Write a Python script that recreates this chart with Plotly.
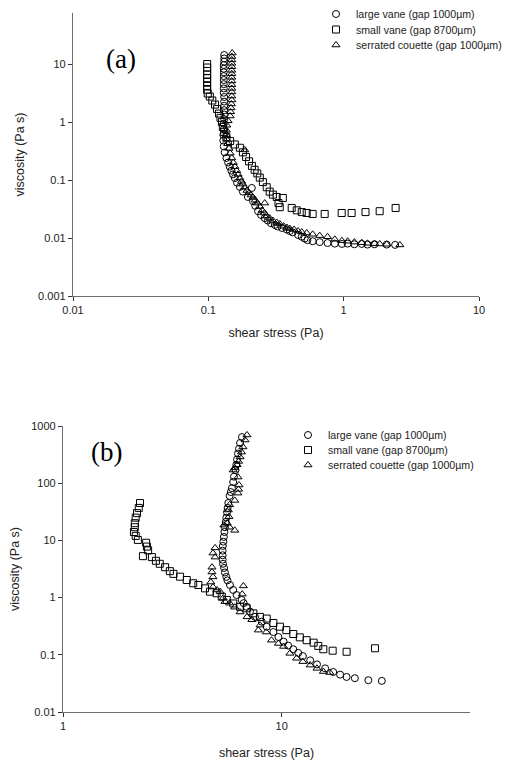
import plotly.graph_objects as go

# ---------------- Panel (a) data ----------------
a_large_x = [0.131, 0.131, 0.131, 0.130, 0.130, 0.130, 0.130, 0.130, 0.130, 0.130, 0.130, 0.131, 0.131,
             0.131, 0.131, 0.131, 0.131, 0.130, 0.130, 0.129, 0.129, 0.130, 0.132, 0.136, 0.140, 0.144,
             0.148, 0.152, 0.157, 0.163, 0.171, 0.180, 0.196, 0.2095, 0.214, 0.222, 0.233, 0.245, 0.261,
             0.275, 0.29, 0.31, 0.325, 0.35, 0.38, 0.40, 0.42, 0.46, 0.49, 0.515, 0.54, 0.59, 0.665,
             0.76, 0.86, 0.97, 1.07, 1.2, 1.36, 1.5, 1.69, 2.08, 2.4]
a_large_y = [14.3, 12.5, 11.0, 9.6, 8.3, 7.2, 6.2, 5.3, 4.5, 3.8, 3.2, 2.7, 2.25,
             1.9, 1.6, 1.35, 1.12, 0.93, 0.75, 0.6, 0.48, 0.38, 0.30, 0.24, 0.20, 0.17,
             0.145, 0.125, 0.108, 0.09, 0.076, 0.063, 0.051, 0.073, 0.043, 0.036, 0.029, 0.025, 0.022,
             0.020, 0.018, 0.0168, 0.0158, 0.0149, 0.014, 0.0132, 0.0125, 0.0113, 0.0105, 0.0098, 0.0092, 0.0088, 0.0085,
             0.0082, 0.0080, 0.0079, 0.0080, 0.0078, 0.0079, 0.0077, 0.0078, 0.0077, 0.0076]

a_small_x = [0.098, 0.098, 0.098, 0.098, 0.098, 0.098, 0.098, 0.098, 0.099, 0.1026, 0.107, 0.112, 0.116,
             0.12, 0.123, 0.126, 0.128, 0.131, 0.136, 0.145, 0.157, 0.171, 0.18, 0.19, 0.2, 0.21, 0.22,
             0.23, 0.24, 0.253, 0.27, 0.284, 0.3, 0.32, 0.355, 0.33, 0.337, 0.413, 0.45, 0.49, 0.533,
             0.59, 0.724, 0.967, 1.145, 1.45, 1.845, 2.42]
a_small_y = [10.0, 8.7, 7.6, 6.6, 5.7, 4.9, 4.2, 3.6, 3.1, 2.75, 2.35, 2.0, 1.68,
             1.4, 1.18, 1.0, 0.82, 0.67, 0.55, 0.47, 0.41, 0.36, 0.30, 0.25, 0.21, 0.175, 0.15,
             0.13, 0.11, 0.092, 0.075, 0.063, 0.056, 0.051, 0.049, 0.040, 0.034, 0.033, 0.030, 0.028, 0.027,
             0.026, 0.026, 0.027, 0.027, 0.028, 0.029, 0.033]

a_serr_x = [0.150, 0.149, 0.149, 0.149, 0.149, 0.149, 0.149, 0.149, 0.149, 0.149, 0.149, 0.149, 0.149,
            0.149, 0.148, 0.147, 0.146, 0.145, 0.140, 0.137, 0.136, 0.136, 0.137, 0.139, 0.142, 0.186,
            0.145, 0.149, 0.153, 0.157, 0.162, 0.166, 0.171, 0.176, 0.180, 0.186, 0.193, 0.200, 0.207,
            0.214, 0.222, 0.261, 0.230, 0.240, 0.250, 0.260, 0.270, 0.284, 0.300, 0.320, 0.337, 0.360,
            0.380, 0.400, 0.430, 0.460, 0.490, 0.533, 0.590, 0.665, 0.760, 0.860, 0.970, 1.07, 1.20,
            1.36, 1.50, 1.69, 1.85, 2.08, 2.60]
a_serr_y = [15.5, 13.5, 11.8, 10.3, 9.0, 7.8, 6.8, 5.9, 5.1, 4.4, 3.8, 3.3, 2.8,
            2.4, 2.05, 1.75, 1.5, 1.27, 1.05, 0.88, 0.72, 0.60, 0.50, 0.42, 0.35, 0.33,
            0.29, 0.24, 0.20, 0.17, 0.145, 0.125, 0.108, 0.095, 0.085, 0.075, 0.066, 0.060, 0.055,
            0.050, 0.045, 0.040, 0.040, 0.035, 0.030, 0.027, 0.024, 0.022, 0.020, 0.0185, 0.0175, 0.016,
            0.0152, 0.0145, 0.0140, 0.0132, 0.0127, 0.0122, 0.0116, 0.0110, 0.0105, 0.0095, 0.0090, 0.0088, 0.0085,
            0.0083, 0.0081, 0.0080, 0.0079, 0.0078, 0.0076]

# ---------------- Panel (b) data ----------------
b_large_x = [6.58, 6.45, 6.38, 6.31, 6.25, 6.20, 6.15, 6.05, 6.00, 5.92, 5.85, 5.78, 5.70, 5.66, 5.62,
             5.58, 5.55, 5.50, 5.47, 5.44, 5.41, 5.38, 5.37, 5.37, 5.37, 5.39, 5.45, 5.50, 5.58, 5.65,
             5.80, 6.00, 6.22, 6.56, 6.70, 6.92, 7.16, 7.55, 8.10, 8.54, 9.16, 9.66, 10.2, 10.7, 11.3,
             11.9, 12.5, 13.5, 14.5, 15.8, 17.2, 18.5, 19.8, 21.6, 24.9, 28.7]
b_large_y = [640, 505, 400, 330, 260, 210, 170, 130, 105, 82, 70, 60, 45, 37, 31,
             25, 21, 17, 14, 11.5, 9.5, 8.0, 6.6, 5.5, 4.6, 3.9, 3.3, 2.75, 2.3, 2.0,
             1.66, 1.36, 1.11, 0.91, 0.80, 0.69, 0.57, 0.46, 0.38, 0.31, 0.25, 0.205, 0.17, 0.145, 0.125,
             0.108, 0.095, 0.080, 0.068, 0.058, 0.050, 0.045, 0.041, 0.039, 0.036, 0.035]

b_small_x = [2.25, 2.22, 2.18, 2.15, 2.13, 2.13, 2.11, 2.15, 2.20, 2.40, 2.42, 2.45, 2.32, 2.55, 2.66,
             2.77, 2.93, 3.08, 3.20, 3.43, 3.68, 3.94, 4.16, 4.46, 4.70, 5.04, 5.32, 5.61, 6.01, 6.45,
             6.92, 7.42, 7.96, 8.54, 9.16, 9.82, 10.5, 11.3, 12.1, 13.0, 14.0, 14.7, 15.5, 17.1, 19.8, 26.7]
b_small_y = [45, 37, 30, 25, 20, 17, 14, 12, 10.2, 9.1, 7.8, 6.7, 5.3, 5.1, 4.4,
             3.9, 3.4, 2.9, 2.6, 2.32, 2.03, 1.78, 1.66, 1.45, 1.27, 1.19, 1.04, 0.91, 0.79, 0.69,
             0.65, 0.53, 0.46, 0.43, 0.36, 0.31, 0.27, 0.231, 0.202, 0.18, 0.163, 0.143, 0.125, 0.118, 0.113, 0.13]

b_serr_x = [6.94, 6.80, 6.65, 6.55, 6.45, 6.35, 6.25, 6.10, 6.00, 6.31, 6.38, 6.35, 6.31, 6.10, 5.78,
            5.70, 5.74, 5.63, 5.44, 5.78, 6.10, 4.96, 4.85, 4.96, 4.80, 4.80, 4.85, 4.74, 4.85, 5.06,
            5.23, 5.40, 5.50, 5.78, 6.10, 6.68, 6.60, 6.45, 6.94, 7.30, 7.96, 7.82, 8.50, 8.98, 9.66,
            10.2, 10.9, 11.7, 12.5, 13.5, 14.5, 15.5, 16.6]
b_serr_y = [697, 569, 430, 350, 287, 240, 210, 185, 170, 128, 93, 78, 67, 50, 42,
            34, 26, 20, 18.5, 17, 15, 7.4, 6.0, 5.1, 3.4, 2.8, 2.3, 1.87, 1.53, 1.36,
            1.27, 0.98, 0.85, 0.80, 0.68, 1.60, 1.15, 0.56, 0.46, 0.41, 0.33, 0.27, 0.25, 0.18, 0.158,
            0.14, 0.106, 0.087, 0.076, 0.066, 0.058, 0.051, 0.049]

series_names = ["large vane (gap 1000\u00b5m)", "small vane (gap 8700\u00b5m)",
                "serrated couette (gap 1000\u00b5m)"]
symbols = ["circle-open", "square-open", "triangle-up-open"]

x_ticks_a = [0.01, 0.1, 1, 10]
x_ticktext_a = ["0.01", "0.1", "1", "10"]
y_ticks_a = [0.001, 0.01, 0.1, 1, 10]
y_ticktext_a = ["0.001", "0.01", "0.1", "1", "10"]
x_ticks_b = [1, 10]
x_ticktext_b = ["1", "10"]
y_ticks_b = [0.01, 0.1, 1, 10, 100, 1000]
y_ticktext_b = ["0.01", "0.1", "1", "10", "100", "1000"]

# The page body has an 8px margin, so the figure is sized to fill the window after it.
OFF = 8
W, H = 513 - OFF, 760 - OFF
FONT = "Liberation Sans, Arial, sans-serif"

def px_x(p):  # page pixel -> paper fraction
    return (p - OFF) / W

def px_y(p):
    return 1 - (p - OFF) / H

fig = go.Figure()

# one legend per entry so the rows can be spaced like the reference
legend_rows = {
    "x": (316, [14, 29.5, 45]),
    "x2": (288, [435, 450, 465]),
}
panels = [
    ("x", "y", [(a_large_x, a_large_y), (a_small_x, a_small_y), (a_serr_x, a_serr_y)]),
    ("x2", "y2", [(b_large_x, b_large_y), (b_small_x, b_small_y), (b_serr_x, b_serr_y)]),
]
legend_layout = {}
k = 0
for xa, ya, data in panels:
    lx, rows = legend_rows[xa]
    for (xs, ys), name, sym, ry in zip(data, series_names, symbols, rows):
        k += 1
        key = "legend" if k == 1 else f"legend{k}"
        fig.add_trace(go.Scatter(
            x=xs, y=ys, mode="markers", name=name, xaxis=xa, yaxis=ya, legend=key,
            marker=dict(symbol=sym, size=7, color="black", line=dict(width=1, color="black")),
        ))
        legend_layout[key] = dict(
            x=px_x(lx), y=px_y(ry), xanchor="left", yanchor="middle",
            font=dict(family=FONT, size=10.6, color="#222"), bgcolor="rgba(0,0,0,0)",
            tracegroupgap=0, itemsizing="trace",
        )

axis_common = dict(
    type="log", showgrid=False, zeroline=False, showline=True, linecolor="#6e6e6e", linewidth=1.3,
    ticks="outside", ticklen=4, tickcolor="#333", tickwidth=1, automargin=False,
    tickfont=dict(family=FONT, size=11, color="#222"), mirror=False,
)

fig.update_layout(
    width=W, height=H, margin=dict(l=0, r=0, t=0, b=0, autoexpand=False),
    paper_bgcolor="white", plot_bgcolor="white",
    font=dict(family=FONT, color="#222"),
    xaxis=dict(axis_common, domain=[px_x(73), px_x(479)], range=[-2, 1], anchor="y",
               tickvals=x_ticks_a, ticktext=x_ticktext_a,
               title=dict(text="shear stress (Pa)", font=dict(size=12.5, family=FONT), standoff=12)),
    yaxis=dict(axis_common, domain=[px_y(296), px_y(13)], range=[-3, 1.88], anchor="x",
               tickvals=y_ticks_a, ticktext=y_ticktext_a,
               title=dict(text="viscosity (Pa s)", font=dict(size=12.5, family=FONT), standoff=10)),
    xaxis2=dict(axis_common, domain=[px_x(63), px_x(470)], range=[0, 1.861], anchor="y2",
                tickvals=x_ticks_b, ticktext=x_ticktext_b,
                title=dict(text="shear stress (Pa)", font=dict(size=12.5, family=FONT), standoff=16)),
    yaxis2=dict(axis_common, domain=[px_y(712), px_y(426)], range=[-2, 3], anchor="x2",
                tickvals=y_ticks_b, ticktext=y_ticktext_b,
                title=dict(text="viscosity (Pa s)", font=dict(size=12.5, family=FONT), standoff=10)),
    showlegend=True,
    annotations=[
        dict(text="(a)", x=px_x(121), y=px_y(59), xref="paper", yref="paper", showarrow=False,
             xanchor="center", yanchor="middle",
             font=dict(family="Liberation Serif, Times New Roman, serif", size=27, color="black")),
        dict(text="(b)", x=px_x(106), y=px_y(452), xref="paper", yref="paper", showarrow=False,
             xanchor="center", yanchor="middle",
             font=dict(family="Liberation Serif, Times New Roman, serif", size=27, color="black")),
    ],
)
fig.update_layout(**legend_layout)

fig.write_html("out.html")
